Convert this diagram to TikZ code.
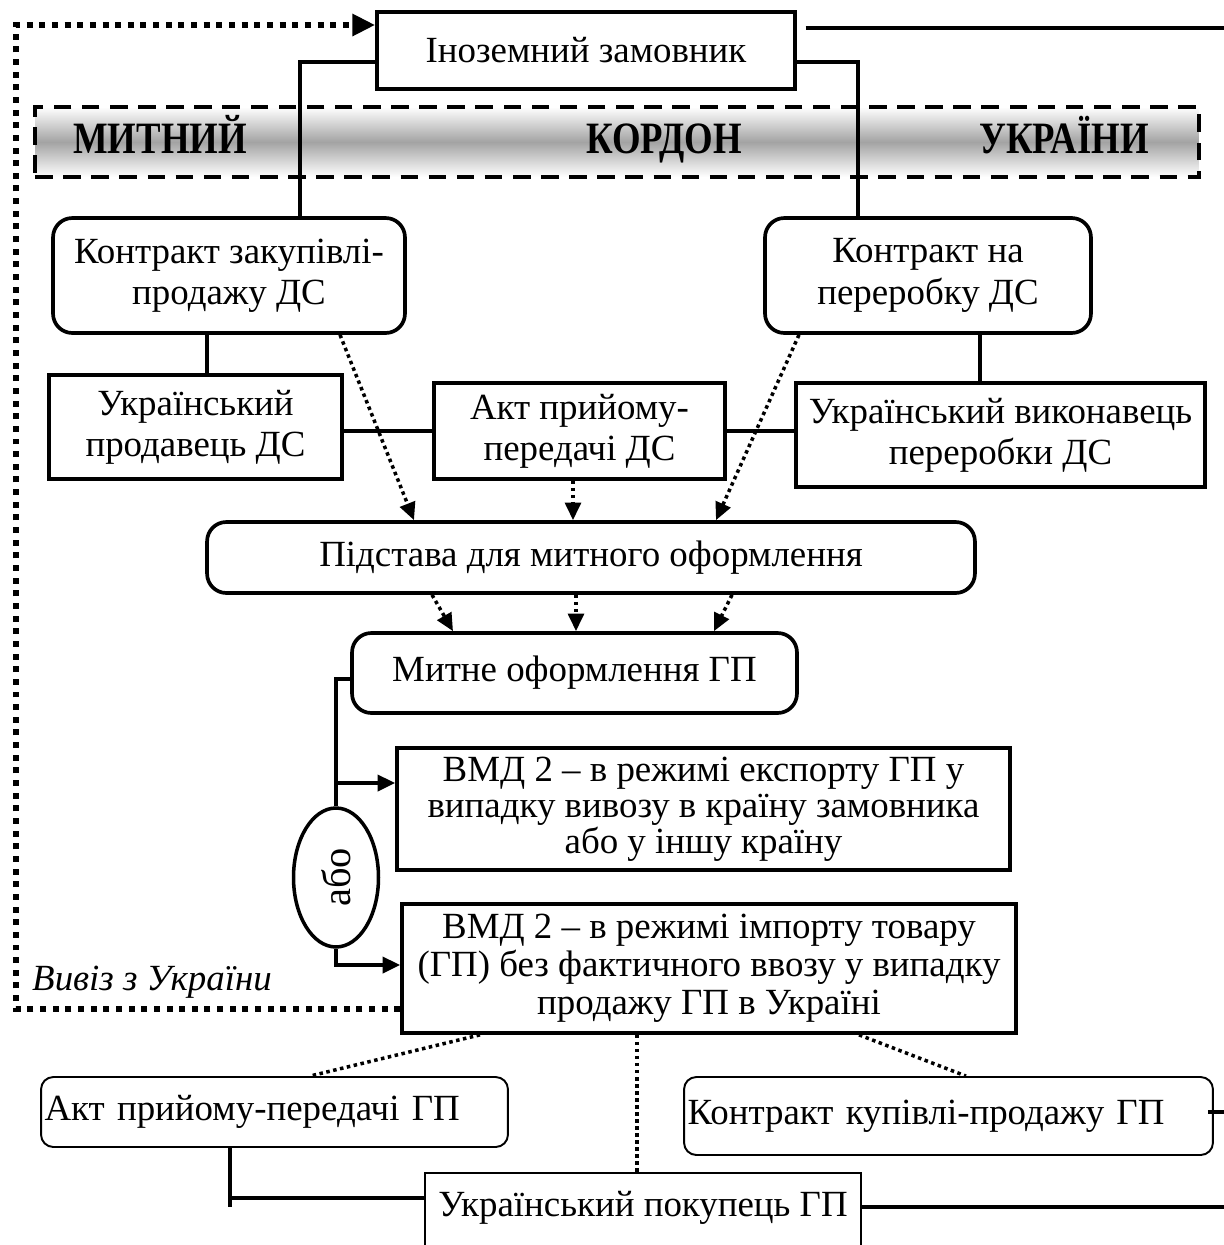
\documentclass[tikz,border=0pt]{standalone}
\usepackage{fontspec}
\setmainfont{Liberation Serif}
\newfontfamily\bandfont{Liberation Serif}[FakeStretch=0.82]
\usetikzlibrary{arrows.meta,shapes.geometric}

\begin{document}
\begin{tikzpicture}[x=0.02cm, y=-0.02cm, font=\fontsize{21}{23.5}\selectfont,
  box/.style={draw, line width=2.1pt, align=center, inner sep=0pt},
  rbox/.style={box, rounded corners=11pt},
  thinbox/.style={draw, line width=1.1pt, inner sep=0pt, rounded corners=7pt},
  conn/.style={line width=2.3pt},
  dots/.style={line width=2pt, dash pattern=on 2pt off 2pt},
  darr/.style={dots, -{Triangle[length=10pt, width=9pt]}},
  sarr/.style={conn, -{Triangle[length=10pt, width=9pt]}},
  outer/.style={line width=3.4pt, dash pattern=on 3.4pt off 3.8pt, -{Triangle[length=13pt, width=12pt]}},
  bandtext/.style={anchor=base, font=\bandfont\fontsize{25.5}{28}\selectfont\bfseries}]
  \useasboundingbox (0,0) rectangle (1224,1245);
  % Border band
  \node[draw, line width=2.4pt, dash pattern=on 10pt off 6pt, top color=white, bottom color=white,
        middle color=black!36, minimum width=23.28cm, minimum height=1.4cm] (band) at (617,142) {};
  \node[bandtext] (mytn) at (160,153) {МИТНИЙ};
  \node[bandtext] (kord) at (664,153) {КОРДОН};
  \node[bandtext] (ukr) at (1064,153) {УКРАЇНИ};
  % Boxes
  \node[box, minimum width=8.36cm, minimum height=1.54cm] (zam) at (586,50.5) {Іноземний замовник};
  \node[rbox, minimum width=7.04cm, minimum height=2.3cm] (kzak) at (229,275.5) {Контракт закупівлі-\\продажу ДС};
  \node[rbox, minimum width=6.52cm, minimum height=2.3cm] (kper) at (928,275.5) {Контракт на\\переробку ДС};
  \node[box, minimum width=5.86cm, minimum height=2.08cm] (uprod) at (195.5,427) {Український\\продавець ДС};
  \node[box, minimum width=5.82cm, minimum height=1.92cm] (aktds) at (579.5,431) {Акт прийому-\\передачі ДС};
  \node[box, minimum width=8.18cm, minimum height=2.08cm] (uvyk) at (1000.5,435) {Український виконавець\\переробки ДС};
  \node[rbox, minimum width=15.36cm, minimum height=1.42cm] (pidst) at (591,557.5) {Підстава для митного оформлення};
  \node[rbox, minimum width=8.9cm, minimum height=1.6cm] (mytne) at (574.5,673) {Митне оформлення ГП};
  \node[box, minimum width=12.26cm, minimum height=2.44cm, font=\fontsize{21}{20.5}\selectfont] (vmdexp) at (703.5,809)
    {ВМД 2 – в режимі експорту ГП у\\випадку вивозу в країну замовника\\або у іншу країну};
  \node[box, minimum width=12.28cm, minimum height=2.58cm, font=\fontsize{21}{21.5}\selectfont] (vmdimp) at (709,968.5)
    {ВМД 2 – в режимі імпорту товару\\(ГП) без фактичного ввозу у випадку\\продажу ГП в Україні};
  \node[draw, ellipse, line width=2pt, inner sep=0pt, rotate=90, minimum width=2.78cm, minimum height=1.7cm,
        font=\fontsize{23}{25}\selectfont] (abo) at (336,877.5) {або};
  \node[thinbox, minimum height=1.4cm, text width=9.2cm, inner xsep=0.07cm, align=left] (aktgp) at (274.5,1112) {Акт прийому-передачі ГП};
  \node[thinbox, minimum height=1.56cm, text width=10.44cm, inner xsep=0.07cm, align=left] (kkup) at (948.5,1116) {Контракт купівлі-продажу ГП};
  \node[draw, line width=1.2pt, anchor=north, minimum width=8.72cm, inner ysep=0.15cm, text height=0.71cm, text depth=1.2cm]
    (upok) at (643,1172) {Український покупець ГП};
  \node[anchor=base west, font=\fontsize{21}{23.5}\selectfont\itshape] (vyviz) at (26,990) {Вивіз з України};
  % Solid connectors
  \coordinate (rtop) at (1224,28);
  \coordinate (lz) at (300,62);
  \coordinate (rz) at (858,62);
  \draw[conn, shorten <=5pt] (rtop -| zam.east) -- (rtop);
  \draw[conn] (lz -| zam.west) -- (lz) -- (lz |- kzak.north);
  \draw[conn] (rz -| zam.east) -- (rz) -- (rz |- kper.north);
  \draw[conn] (kzak.south -| 207,0) -- (uprod.north -| 207,0);
  \draw[conn] (kper.south -| 980,0) -- (uvyk.north -| 980,0);
  \draw[conn] (uprod.east |- aktds.west) -- (aktds.west);
  \draw[conn] (aktds.east) -- (aktds.east -| uvyk.west);
  % Dotted arrows
  \draw[darr] (kzak.south -| 340,0) -- (pidst.north -| 414,0);
  \draw[darr] (aktds.south -| 573,0) -- (pidst.north -| 573,0);
  \draw[darr] (kper.south -| 799,0) -- (pidst.north -| 716,0);
  \draw[darr] (pidst.south -| 432,0) -- (mytne.north -| 453,0);
  \draw[darr] (pidst.south -| 576,0) -- (mytne.north -| 576,0);
  \draw[darr] (pidst.south -| 732,0) -- (mytne.north -| 714,0);
  % або branch
  \coordinate (ob1) at (336,679);
  \coordinate (oa) at (336,783);
  \coordinate (ob2) at (336,965);
  \draw[conn] (mytne.west |- ob1) -- (ob1) -- (abo.east);
  \draw[sarr] (oa) -- (oa -| vmdexp.west);
  \draw[sarr] (abo.west) -- (ob2) -- (ob2 -| vmdimp.west);
  % Export loop
  \coordinate (lb) at (16,1009);
  \coordinate (lt) at (16,25);
  \draw[outer] (lb -| vmdimp.west) -- (lb) -- (lt) -- (lt -| zam.west);
  % Lower part
  \draw[dots] (vmdimp.south -| 480,0) -- (aktgp.north -| 310,0);
  \draw[dots] (vmdimp.south -| 637,0) -- (upok.north -| 637,0);
  \draw[dots] (vmdimp.south -| 859,0) -- (kkup.north -| 966,0);
  \coordinate (bk) at (230,1198);
  \coordinate (rk) at (1224,1112);
  \coordinate (rb) at (1224,1207);
  \draw[conn] (aktgp.south -| bk) -- ([yshift=-0.18cm]bk);
  \draw[conn] (bk) -- (bk -| upok.west);
  \draw[conn] ([xshift=-0.12cm]rk -| kkup.east) -- (rk);
  \draw[conn] (rb -| upok.east) -- (rb);
\end{tikzpicture}
\end{document}
